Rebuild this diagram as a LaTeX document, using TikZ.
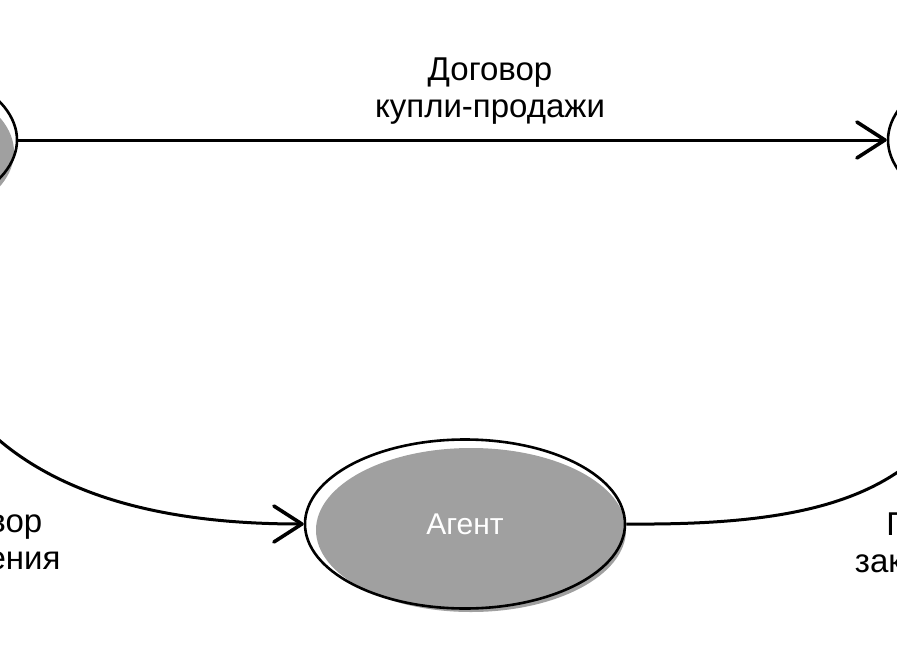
\documentclass[tikz,border=0pt]{standalone}
\usepackage{fontspec}
\setmainfont{Liberation Sans}
\usetikzlibrary{shapes.geometric,arrows.meta}
\definecolor{nodegray}{RGB}{160,160,160}
\begin{document}
\begin{tikzpicture}[x=1pt,y=-1pt,
  conn/.style={line width=3pt, draw=black},
  tip/.style={-{Straight Barb[length=28pt,width=36pt,line width=3.6pt,round]}},
  party/.style={ellipse, draw=black, line width=2.6pt, minimum width=320pt, minimum height=169pt, inner sep=0pt},
  lbl/.style={align=center, font=\fontsize{33}{37}\selectfont}]
\useasboundingbox (0,0) rectangle (897,651);
\clip (0,0) rectangle (897,651);
\fill[white] (0,0) rectangle (897,651);
\fill[nodegray] (-143,152) ellipse [x radius=157pt, y radius=83pt];
\node[party] (L) at (-143,140) {};
\node[party, fill=white] (R) at (1048,140) {};
\fill[nodegray] (471,530) ellipse [x radius=155pt, y radius=82pt];
\node[party, text=white, font=\fontsize{30}{36}\selectfont] (A) at (465,524) {Агент};
\draw[conn,tip] (L.east) -- (R.west);
\draw[conn,tip] (L.-60) .. controls +(10,270) and +(-153,0) .. (A.west);
\draw[conn] (A.east) .. controls +(245,2) and +(-10,255) .. (R.-120);
\node[lbl] (t1) at (490,91) {Договор\\купли-продажи};
\node[lbl] (t2) at (-20,543) {Договор\\поручения};
\node[lbl] (t3) at (946,543) {Поиск и\\заключение};
\end{tikzpicture}
\end{document}
